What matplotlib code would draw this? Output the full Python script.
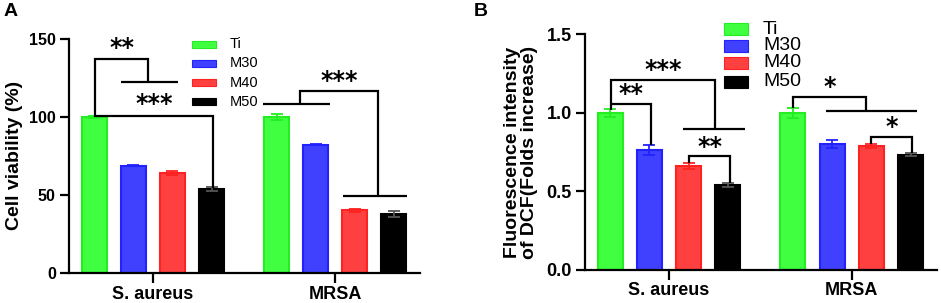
import matplotlib
matplotlib.use("Agg")
import matplotlib.pyplot as plt
from matplotlib.patches import Rectangle
import numpy as np

plt.rcParams['font.family'] = ['Liberation Sans', 'DejaVu Sans']

groups = ["S. aureus", "MRSA"]
series = ["Ti", "M30", "M40", "M50"]
fills = ["#40FF40", "#4040FF", "#FF4040", "#000000"]
edges = ["#22EE22", "#2222FF", "#FF2222", "#000000"]

# Panel A: cell viability (%)
viab = {
    "Ti":  [100.0, 100.0],
    "M30": [68.7, 82.2],
    "M40": [64.2, 40.0],
    "M50": [53.9, 37.7],
}
viab_err = {
    "Ti":  [0.5, 1.7],
    "M30": [0.3, 0.3],
    "M40": [1.3, 1.1],
    "M50": [1.3, 1.9],
}
# Panel B: DCF fluorescence (fold increase)
dcf = {
    "Ti":  [1.0, 1.0],
    "M30": [0.766, 0.80],
    "M40": [0.662, 0.789],
    "M50": [0.541, 0.734],
}
dcf_err = {
    "Ti":  [0.025, 0.03],
    "M30": [0.031, 0.025],
    "M40": [0.017, 0.015],
    "M50": [0.015, 0.009],
}

W, H = 941, 303
fig = plt.figure(figsize=(W / 100, H / 100), dpi=100)

def rect(l, t, r, b):
    return [l / W, 1 - b / H, (r - l) / W, (b - t) / H]

axA = fig.add_axes(rect(69, 39, 420, 272.7))
axB = fig.add_axes(rect(585, 34.3, 936.7, 270))

offsets = np.array([-0.322, -0.107, 0.107, 0.322])
bw = 0.137
xg = np.arange(len(groups))

def draw_bars(ax, data, err):
    for i, s in enumerate(series):
        ax.bar(xg + offsets[i], data[s], width=bw, color=fills[i],
               edgecolor=edges[i], linewidth=1.5, zorder=2)
        ax.errorbar(xg + offsets[i], data[s], yerr=err[s], fmt='none',
                    ecolor=edges[i] if s != "M50" else "#555555",
                    elinewidth=1.3, capsize=4, capthick=1.3, zorder=3)

def style(ax, ylim, yticks, ylabels, tfs, xpad):
    ax.set_xlim(-0.46, 1.465)
    ax.set_ylim(*ylim)
    for sp in ['top', 'right']:
        ax.spines[sp].set_visible(False)
    for sp in ['left', 'bottom']:
        ax.spines[sp].set_linewidth(1.6)
    ax.set_yticks(yticks)
    ax.set_yticklabels(ylabels, fontsize=tfs, fontweight='bold')
    ax.set_xticks(xg)
    ax.set_xticklabels(groups, fontsize=13, fontweight='bold')
    ax.tick_params(axis='y', width=1.6, length=6.5, pad=3)
    ax.tick_params(axis='x', width=1.6, length=7, pad=xpad)

def bracket(ax, xs, ys):
    ax.plot(xs, ys, color='k', lw=1.6, clip_on=False, zorder=4,
            solid_joinstyle='miter', solid_capstyle='butt')

def stars(ax, x, y, s):
    ax.text(x, y, s, ha='center', va='center', fontsize=17,
            fontweight='bold', family='DejaVu Sans', clip_on=False)

draw_bars(axA, viab, viab_err)
style(axA, (0, 150), [0, 50, 100, 150], ["0", "50", "100", "150"], 11.5, 2.5)
axA.set_ylabel("Cell viability (%)", fontsize=14, fontweight='bold', labelpad=4)

bracket(axA, [-0.318, -0.318, -0.024, -0.024], [100.1, 137.0, 137.0, 122.2])
bracket(axA, [-0.176, 0.1376], [122.2, 122.2])
bracket(axA, [-0.318, 0.328, 0.328], [100.8, 100.8, 54.6])
bracket(axA, [0.605, 0.972], [108.1, 108.1])
bracket(axA, [0.807, 0.807, 1.234, 1.234], [108.1, 116.4, 116.4, 49.0])
bracket(axA, [1.043, 1.394], [49.0, 49.0])
stars(axA, -0.171, 144.0, "**")
stars(axA, 0.007, 108.0, "***")
stars(axA, 1.021, 123.0, "***")

draw_bars(axB, dcf, dcf_err)
style(axB, (0, 1.5), [0, 0.5, 1.0, 1.5], ["0.0", "0.5", "1.0", "1.5"], 13, 1.5)
axB.set_ylabel("Fluorescence intensity\nof DCF(Folds increase)", fontsize=14,
               fontweight='bold', linespacing=1.0, labelpad=6)

bracket(axB, [-0.320, -0.320, 0.249, 0.249], [1.019, 1.209, 1.209, 0.895])
bracket(axB, [0.076, 0.415], [0.895, 0.895])
bracket(axB, [-0.320, -0.101, -0.101], [1.055, 1.055, 0.796])
bracket(axB, [0.109, 0.109, 0.335, 0.335], [0.679, 0.724, 0.724, 0.556])
bracket(axB, [0.676, 0.676, 1.077, 1.077], [1.029, 1.101, 1.101, 1.012])
bracket(axB, [0.859, 1.358], [1.012, 1.012])
bracket(axB, [1.107, 1.107, 1.328, 1.328], [0.804, 0.849, 0.849, 0.743])
stars(axB, -0.033, 1.275, "***")
stars(axB, -0.209, 1.122, "**")
stars(axB, 0.222, 0.783, "**")
stars(axB, 0.877, 1.165, "*")
stars(axB, 1.219, 0.910, "*")

# legends (figure pixel layout)
def legend(x0, ys, hw, hh, tx, fs):
    for i, s in enumerate(series):
        fig.add_artist(Rectangle((x0 / W, 1 - (ys[i] + hh / 2) / H), hw / W, hh / H,
                                 transform=fig.transFigure, facecolor=fills[i],
                                 edgecolor=edges[i], linewidth=0.8))
        fig.text(tx / W, 1 - ys[i] / H, s, fontsize=fs, ha='left', va='center')

legend(191.7, [44, 63, 82.7, 102], 24, 7, 230, 10.5)
legend(724, [29.3, 46, 62.7, 81.7], 24, 12, 763, 14)

fig.text(4 / W, 1 - 11 / H, "A", fontsize=14, fontweight='bold', va='center')
fig.text(474 / W, 1 - 11 / H, "B", fontsize=14, fontweight='bold', va='center')

fig.savefig("out.png", dpi=100)
